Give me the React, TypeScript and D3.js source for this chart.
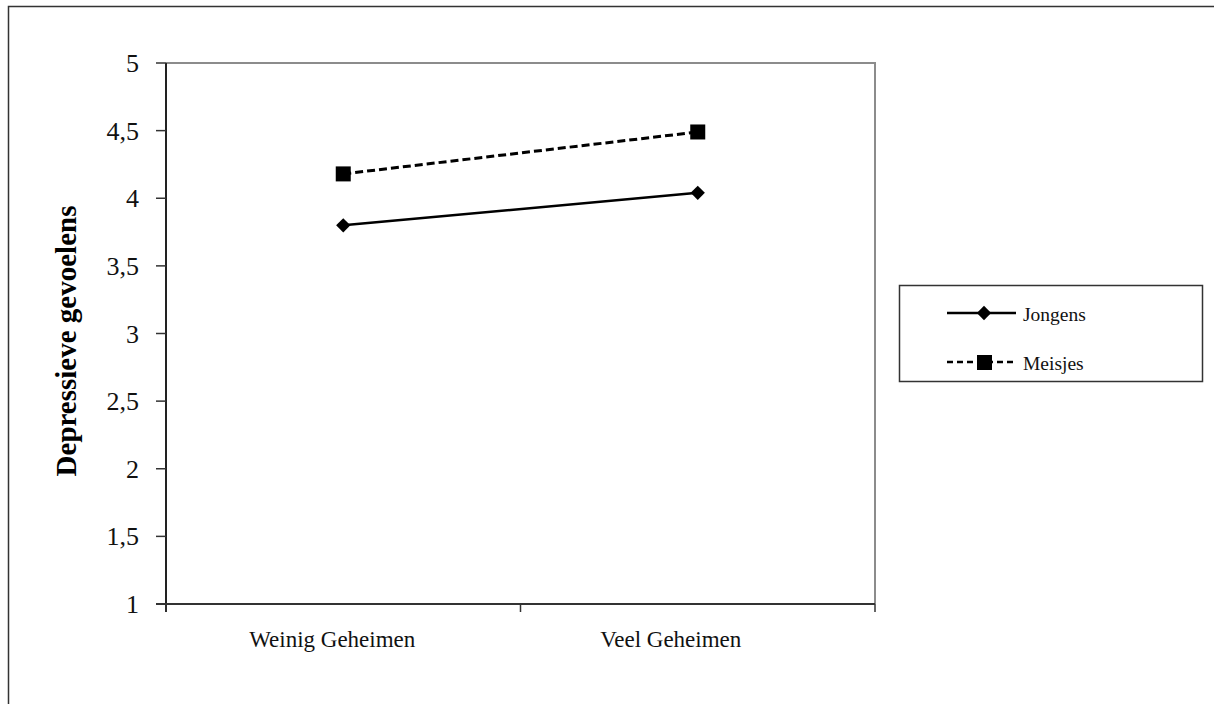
import React from "react";
import * as d3 from "d3";

const categories = ["Weinig Geheimen", "Veel Geheimen"];
const jongens = [3.8, 4.04];
const meisjes = [4.18, 4.49];
const yTicks = [1, 1.5, 2, 2.5, 3, 3.5, 4, 4.5, 5];
const seriesNames = ["Jongens", "Meisjes"];

const W = 1214;
const H = 704;
const left = 166;
const right = 875;
const top = 63;
const bottom = 604;
const labelShift = [-11, -27];

export default function App() {
  const y = d3.scaleLinear().domain([1, 5]).range([bottom, top]);
  const xBand = d3.scaleBand<string>().domain(categories).range([left, right]);
  const xc = (c: string) => (xBand(c) as number) + xBand.bandwidth() / 2;
  const line = d3
    .line<number>()
    .x((_, i) => xc(categories[i]))
    .y((d) => y(d));
  const fmt = (v: number) => String(v).replace(".", ",");
  const serif = "'Liberation Serif', 'Times New Roman', serif";
  const diamond = d3.symbol().type(d3.symbolDiamond2).size(130)();
  const bands = [left, ...categories.map((c) => (xBand(c) as number) + xBand.bandwidth())];

  return (
    <svg
      width={W}
      height={H}
      style={{ position: "absolute", left: 0, top: 0, background: "#fff" }}
      fontFamily={serif}
    >
      <rect x={0} y={0} width={W} height={H} fill="#fff" />
      <rect x={8.5} y={6.5} width={W + 20} height={H + 20} fill="none" stroke="#333" strokeWidth={1.5} />
      <path d={`M${left},${top}H${right}V${bottom}`} fill="none" stroke="#8c8c8c" strokeWidth={2} />
      <line x1={left} x2={left} y1={top} y2={bottom + 8} stroke="#222" strokeWidth={2} />
      <line x1={left - 10} x2={right} y1={bottom} y2={bottom} stroke="#333" strokeWidth={2} />
      {yTicks.map((t) => (
        <g key={t}>
          <line x1={left - 10} x2={left} y1={y(t)} y2={y(t)} stroke="#333" strokeWidth={1.5} />
          <text x={139} y={y(t)} dy="0.35em" textAnchor="end" fontSize={26} fill="#111">
            {fmt(t)}
          </text>
        </g>
      ))}
      {bands.map((b, i) => (
        <line key={i} x1={b} x2={b} y1={bottom} y2={bottom + 8} stroke="#333" strokeWidth={1.5} />
      ))}
      {categories.map((c, i) => (
        <text key={c} x={xc(c)} dx={labelShift[i]} y={647} textAnchor="middle" fontSize={23} fill="#111">
          {c}
        </text>
      ))}
      <text
        transform={`translate(76,341) rotate(-90)`}
        textAnchor="middle"
        fontSize={29}
        fontWeight="bold"
        fill="#000"
      >
        Depressieve gevoelens
      </text>
      <path d={line(jongens) || ""} fill="none" stroke="#000" strokeWidth={2.5} />
      <path d={line(meisjes) || ""} fill="none" stroke="#000" strokeWidth={3} strokeDasharray="8,4" />
      {jongens.map((v, i) => (
        <path key={"j" + i} d={diamond || ""} transform={`translate(${xc(categories[i])},${y(v)})`} fill="#000" />
      ))}
      {meisjes.map((v, i) => (
        <rect key={"m" + i} x={xc(categories[i]) - 7.5} y={y(v) - 7.5} width={15} height={15} fill="#000" />
      ))}
      <rect x={899.5} y={285.5} width={303} height={96} fill="#fff" stroke="#333" strokeWidth={1.5} />
      <line x1={947} x2={1016} y1={313} y2={313} stroke="#000" strokeWidth={2.5} />
      <path d={diamond || ""} transform="translate(984,313)" fill="#000" />
      <text x={1023} y={313} dy="0.4em" fontSize={19.5} fill="#111">
        {seriesNames[0]}
      </text>
      <line x1={947} x2={1016} y1={362} y2={362} stroke="#000" strokeWidth={2.5} strokeDasharray="6,4" />
      <rect x={977} y={355} width={15} height={15} fill="#000" />
      <text x={1023} y={362} dy="0.4em" fontSize={19.5} fill="#111">
        {seriesNames[1]}
      </text>
    </svg>
  );
}
